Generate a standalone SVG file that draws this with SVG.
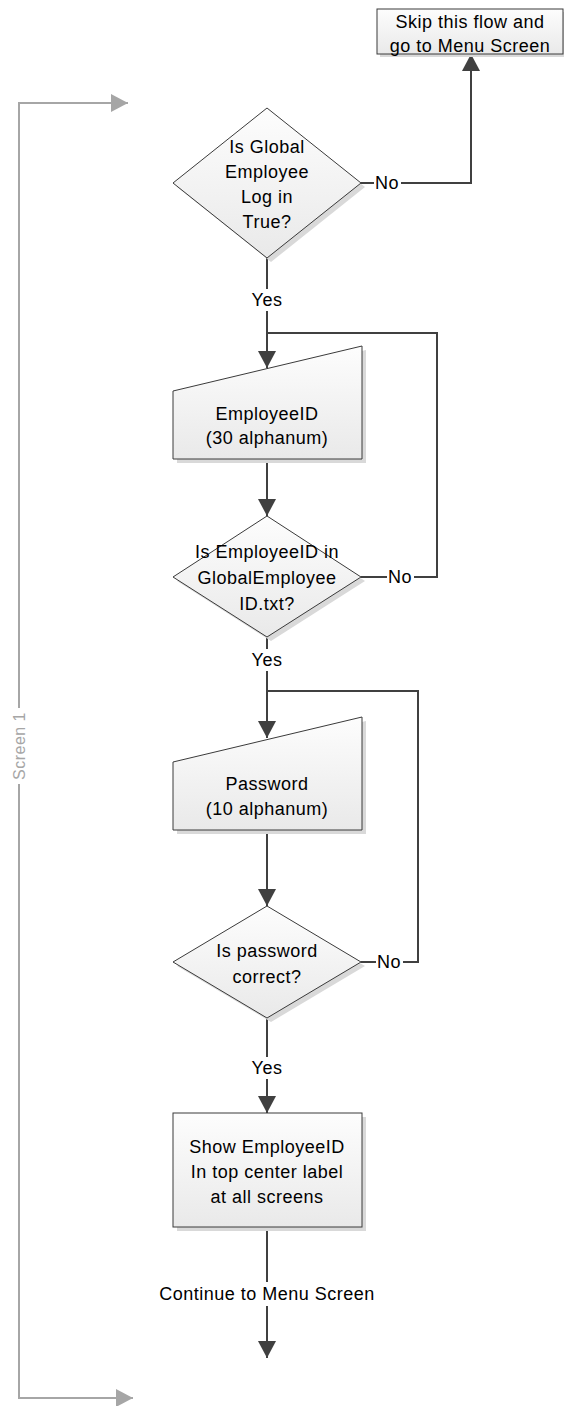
<svg xmlns="http://www.w3.org/2000/svg" width="564" height="1406" viewBox="0 0 564 1406">
<style>
text{font-family:"Liberation Sans",Arial,sans-serif;font-size:18px;fill:#000;text-anchor:middle;letter-spacing:0.5px}
.shape{fill:url(#g);stroke:#3a3a3a;stroke-width:1}
.shadow{fill:#d9d9d9}
.conn{fill:none;stroke:#404040;stroke-width:2}
.scr{fill:none;stroke:#a6a6a6;stroke-width:2}
.bg{fill:#fff}
.gtext{fill:#a6a6a6;font-size:16px}
</style>
<defs>
<linearGradient id="g" x1="0" y1="0" x2="0" y2="1">
<stop offset="0" stop-color="#fdfdfd"/>
<stop offset="1" stop-color="#e9e9e9"/>
</linearGradient>
<marker id="arr" viewBox="0 0 17 18" refX="17" refY="9" markerWidth="17" markerHeight="18" orient="auto" markerUnits="userSpaceOnUse">
<path d="M0,0 L17,9 L0,18 z" fill="#404040"/>
</marker>
<marker id="garr" viewBox="0 0 17 18" refX="17" refY="9" markerWidth="17" markerHeight="18" orient="auto" markerUnits="userSpaceOnUse">
<path d="M0,0 L17,9 L0,18 z" fill="#a6a6a6"/>
</marker>
</defs>

<g id="screen1">
<path class="scr" d="M19,708 L19,103 L111,103" />
<path class="scr" d="M19,784 L19,1398 L116,1398" />
<path d="M111,103 L128,103" class="scr" marker-end="url(#garr)"/>
<path d="M116,1398 L133,1398" class="scr" marker-end="url(#garr)"/>
<text class="gtext" transform="translate(19,746) rotate(-90)" dominant-baseline="central">Screen 1</text>
</g>

<g id="connectors">
<path class="conn" d="M361,183 L471,183 L471,54" marker-end="url(#arr)"/>
<path class="conn" d="M267,258 L267,368" marker-end="url(#arr)"/>
<path class="conn" d="M361,577 L437,577 L437,333 L267,333"/>
<path class="conn" d="M267,459 L267,516" marker-end="url(#arr)"/>
<path class="conn" d="M267,637 L267,738" marker-end="url(#arr)"/>
<path class="conn" d="M361,962 L418,962 L418,691 L267,691"/>
<path class="conn" d="M267,830 L267,906" marker-end="url(#arr)"/>
<path class="conn" d="M267,1018 L267,1113" marker-end="url(#arr)"/>
<path class="conn" d="M267,1227 L267,1358" marker-end="url(#arr)"/>
<rect class="bg" x="374" y="172" width="27" height="22"/>
<text x="387" y="189">No</text>
<rect class="bg" x="251" y="289" width="33" height="22"/>
<text x="267" y="306">Yes</text>
<rect class="bg" x="387" y="566" width="27" height="22"/>
<text x="400" y="583">No</text>
<rect class="bg" x="251" y="649" width="33" height="22"/>
<text x="267" y="666">Yes</text>
<rect class="bg" x="376" y="951" width="27" height="22"/>
<text x="389" y="968">No</text>
<rect class="bg" x="251" y="1057" width="33" height="22"/>
<text x="267" y="1074">Yes</text>
<rect class="bg" x="155" y="1282" width="224" height="24"/>
<text x="267" y="1300">Continue to Menu Screen</text>
</g>

<g id="skip">
<rect class="shadow" x="380" y="12" width="186" height="45"/>
<rect class="shape" x="377" y="9" width="186" height="45"/>
<text x="470" y="28">Skip this flow and</text>
<text x="470" y="52">go to Menu Screen</text>
</g>

<g id="decision1">
<polygon class="shadow" points="271,112 365,187 271,262 177,187"/>
<polygon class="shape" points="267,108 361,183 267,258 173,183"/>
<text x="267" y="153">Is Global</text>
<text x="267" y="178">Employee</text>
<text x="267" y="203">Log in</text>
<text x="267" y="228">True?</text>
</g>

<g id="input1">
<polygon class="shadow" points="177,395 366,350 366,463 177,463"/>
<polygon class="shape" points="173,391 362,346 362,459 173,459"/>
<text x="267" y="420">EmployeeID</text>
<text x="267" y="444">(30 alphanum)</text>
</g>

<g id="decision2">
<polygon class="shadow" points="271,520 365,581 271,641 177,581"/>
<polygon class="shape" points="267,516 361,577 267,637 173,577"/>
<text x="267" y="558">Is EmployeeID in</text>
<text x="267" y="584">GlobalEmployee</text>
<text x="267" y="610">ID.txt?</text>
</g>

<g id="input2">
<polygon class="shadow" points="177,766 366,721 366,834 177,834"/>
<polygon class="shape" points="173,762 362,717 362,830 173,830"/>
<text x="267" y="790">Password</text>
<text x="267" y="815">(10 alphanum)</text>
</g>

<g id="decision3">
<polygon class="shadow" points="271,910 365,966 271,1022 177,966"/>
<polygon class="shape" points="267,906 361,962 267,1018 173,962"/>
<text x="267" y="957">Is password</text>
<text x="267" y="983">correct?</text>
</g>

<g id="show">
<rect class="shadow" x="177" y="1117" width="189" height="114"/>
<rect class="shape" x="173" y="1113" width="189" height="114"/>
<text x="267" y="1153">Show EmployeeID</text>
<text x="267" y="1178">In top center label</text>
<text x="267" y="1203">at all screens</text>
</g>
</svg>
